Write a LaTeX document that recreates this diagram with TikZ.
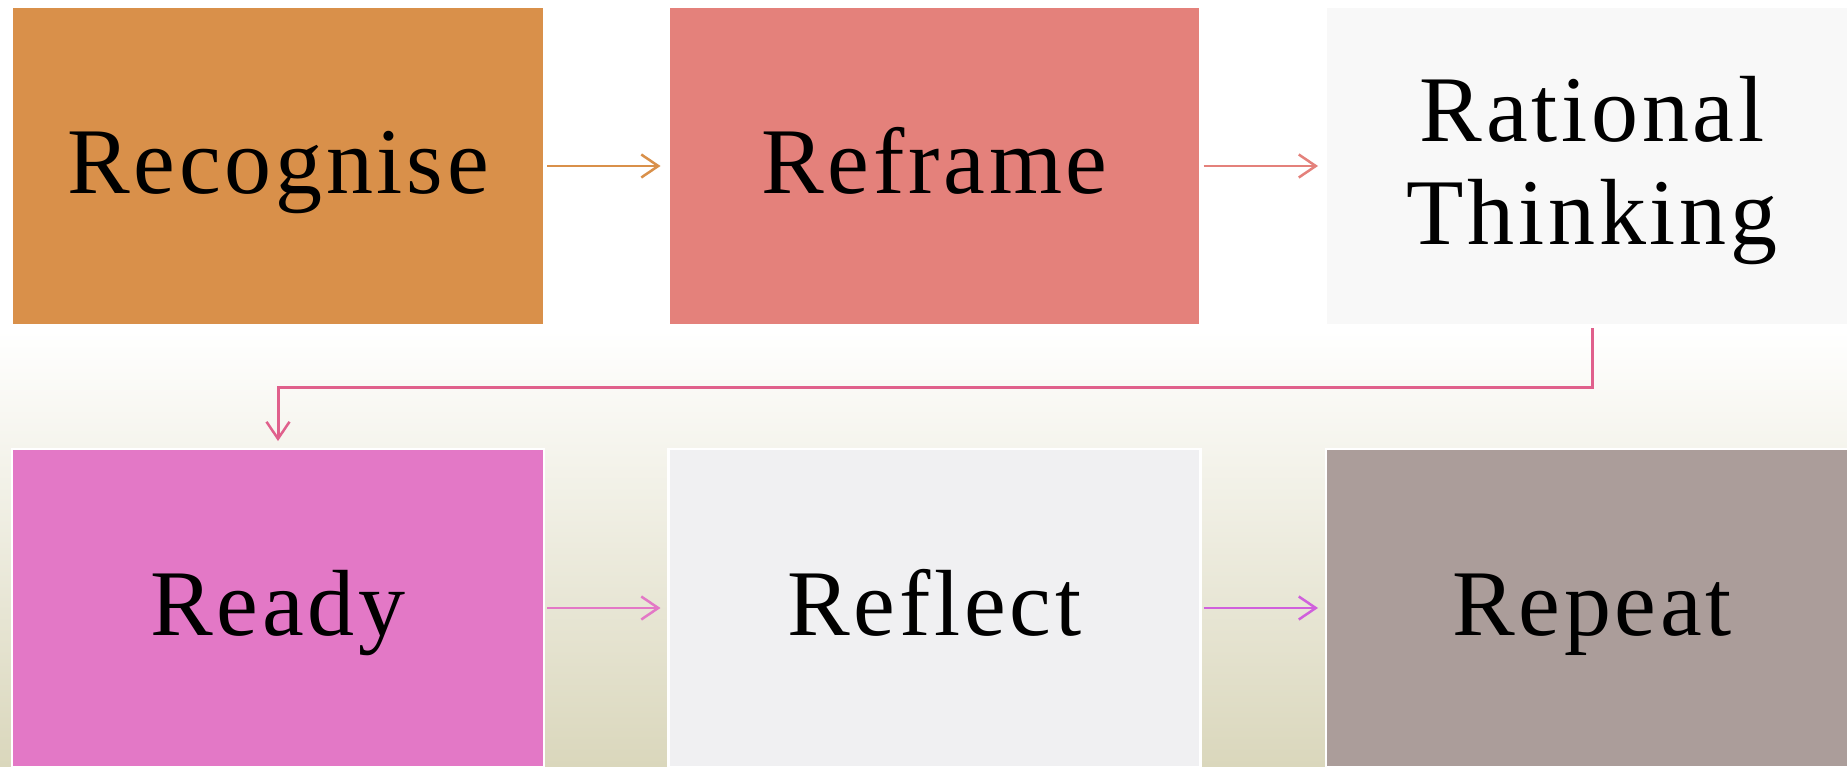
\documentclass[tikz,border=0pt]{standalone}
\usepackage{fontspec}
\setmainfont{Liberation Serif}[LetterSpace=4]
\usetikzlibrary{arrows.meta}

\definecolor{boxA}{HTML}{D9904A}
\definecolor{boxB}{HTML}{E4817B}
\definecolor{boxC}{HTML}{F8F8F8}
\definecolor{boxD}{HTML}{E378C6}
\definecolor{boxE}{HTML}{F0F0F2}
\definecolor{boxF}{HTML}{AB9D9A}
\definecolor{loopline}{HTML}{E0608C}
\definecolor{lastline}{HTML}{D060DC}
\definecolor{floor}{HTML}{DAD7BC}

% one line of text, baseline kept at a fixed offset below the box centre
\newcommand\oneline[1]{\raisebox{0pt}[79.5pt][25.5pt]{#1}}
% two centred lines, the block centred as a whole
\newcommand\twolines[2]{\raisebox{0pt}[79.5pt][128.5pt]{\vtop{\baselineskip=103pt\lineskiplimit=-\maxdimen\halign{\hfil##\hfil\cr#1\cr#2\cr}}}}

\tikzset{
  stage/.style={rectangle, minimum width=532pt, minimum height=318pt,
    inner sep=0pt, outer sep=0pt, draw=white, line width=2.5pt,
    font=\fontsize{94pt}{103pt}\selectfont, text=black},
  flow/.style={line width=2.5pt, shorten <=3pt, shorten >=8pt,
    -{Straight Barb[length=17pt,width=23pt,line width=2.5pt]}},
}

\begin{document}
\begin{tikzpicture}[x=1pt,y=-1pt]
  \useasboundingbox (0,0) rectangle (1847,766);
  \clip (0,0) rectangle (1847,766);

  % backdrop: white above, fading to a pale olive at the bottom
  \fill[white] (0,0) rectangle (1847,331);
  \shade[top color=white, bottom color=floor] (0,330) rectangle (1847,766);

  % top row
  \node[stage, fill=boxA] (b1) at (278,166)   {\oneline{Recognise}};
  \node[stage, fill=boxB] (b2) at (934.5,166) {\oneline{Reframe}};
  \node[stage, fill=boxC] (b3) at (1592,166)  {\twolines{Rational}{Thinking}};

  % bottom row
  \node[stage, fill=boxD] (b4) at (278,608)   {\oneline{Ready}};
  \node[stage, fill=boxE] (b5) at (934.5,608) {\oneline{Reflect}};
  \node[stage, fill=boxF] (b6) at (1592,608)  {\oneline{Repeat}};

  % connectors
  \draw[flow, boxA] (b1.east) -- (b2.west);
  \draw[flow, boxB] (b2.east) -- (b3.west);
  \draw[flow, loopline, line width=3pt] (b3.south) -- ++(0,62) -| (b4.north);
  \draw[flow, boxD] (b4.east) -- (b5.west);
  \draw[flow, lastline] (b5.east) -- (b6.west);
\end{tikzpicture}
\end{document}
